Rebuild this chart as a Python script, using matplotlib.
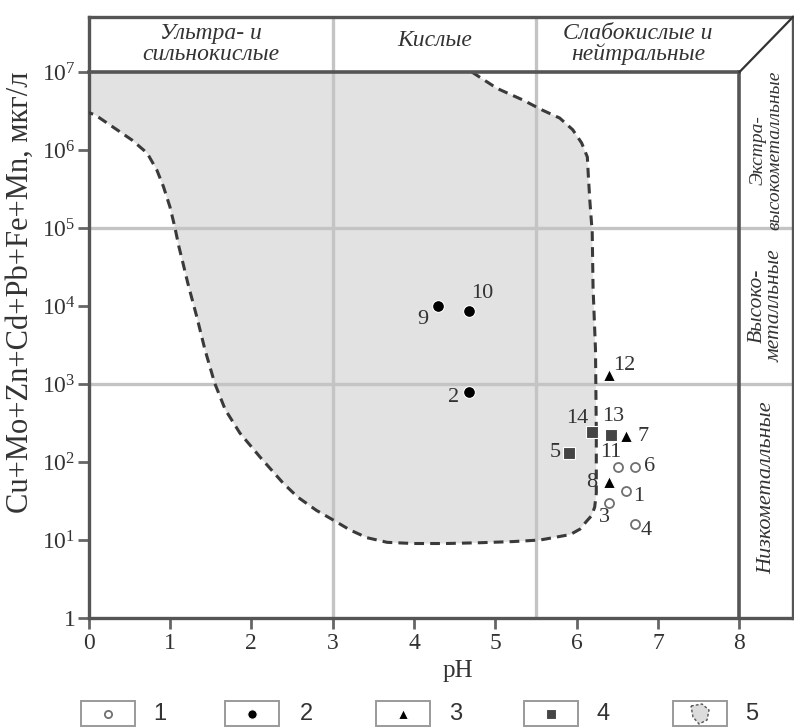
import matplotlib
matplotlib.use('Agg')
import matplotlib.pyplot as plt
from matplotlib.patches import Rectangle, Polygon
import numpy as np

plt.rcParams['font.family'] = ['Liberation Serif', 'DejaVu Serif']
plt.rcParams['mathtext.fontset'] = 'custom'
plt.rcParams['mathtext.rm'] = 'Liberation Serif'
plt.rcParams['mathtext.it'] = 'Liberation Serif:italic'

# ---------------- data ----------------
sample_ids = ['1', '2', '3', '4', '5', '6', '7', '8', '9', '10', '11', '12', '13', '14']
sample_ph = [6.61, 4.67, 6.40, 6.72, 5.90, 6.72, 6.61, 6.40, 4.30, 4.67, 6.51, 6.40, 6.42, 6.19]
sample_metals = [43, 790, 30, 16, 131, 87, 215, 55, 10000, 8700, 87, 1300, 223, 240]
sample_group = [1, 2, 1, 1, 4, 1, 3, 3, 2, 2, 1, 3, 4, 4]

# boundary of the field of natural waters (legend item 5): pH and log10(metals)
field_ph = [4.71, 5.02, 5.34, 5.58, 5.79, 5.95, 6.06, 6.13, 6.14, 6.16, 6.19, 6.20, 6.23,
            6.24, 6.24, 6.22, 6.18, 6.12, 6.04, 5.92, 5.71, 5.55, 5.22, 4.81, 4.40, 3.99,
            3.67, 3.42, 3.21, 3.00, 2.80, 2.57, 2.39, 2.11, 1.86, 1.68, 1.55, 1.43, 1.33,
            1.22, 1.16, 1.11, 1.06, 1.00, 0.92, 0.84, 0.72, 0.53, 0.32, 0.08, 0.00]
field_log_metals = [7.00, 6.79, 6.64, 6.51, 6.41, 6.26, 6.09, 5.91, 5.71, 5.36, 4.94, 4.24, 3.44,
                    2.40, 1.60, 1.42, 1.31, 1.24, 1.14, 1.07, 1.03, 1.00, 0.98, 0.965, 0.955, 0.955,
                    0.97, 1.03, 1.13, 1.26, 1.38, 1.55, 1.73, 2.06, 2.37, 2.67, 3.01, 3.44, 3.86,
                    4.29, 4.55, 4.76, 5.01, 5.27, 5.53, 5.74, 5.96, 6.13, 6.28, 6.45, 6.48]

ph_ticks = [0, 1, 2, 3, 4, 5, 6, 7, 8]
metal_ticks = [1, 1e1, 1e2, 1e3, 1e4, 1e5, 1e6, 1e7]
metal_tick_labels = ['1'] + [r'$\mathregular{10^{%d}}$' % k for k in range(1, 8)]

acidity_classes = ['Ультра- и\nсильнокислые', 'Кислые', 'Слабокислые и\nнейтральные']
acidity_bounds = [0, 3, 5.5, 8]
metal_classes = ['Экстра-\nвысокометалльные', 'Высоко-\nметалльные', 'Низкометалльные']
metal_bounds = [1e7, 1e5, 1e3, 1]
legend_labels = ['1', '2', '3', '4', '5']

# ---------------- styles ----------------
group_style = {
    1: dict(marker='o', ms=6.5, mfc='white', mec='#707070', mew=1.3),
    2: dict(marker='o', ms=8.5, mfc='black', mec='white', mew=0.8),
    3: dict(marker='^', ms=8.5, mfc='black', mec='white', mew=0.8),
    4: dict(marker='s', ms=8.5, mfc='#454545', mec='white', mew=0.8),
}
# label offsets in pixels (dx, dy, ha)
label_offsets = {
    '1': (7, -6, 'left'), '2': (-9, -6, 'right'), '3': (1, -15, 'right'),
    '4': (5, -6, 'left'), '5': (-8, 0, 'right'), '6': (9, 0, 'left'),
    '7': (11, 0, 'left'), '8': (-12, 0, 'right'), '9': (-10, -14, 'right'),
    '10': (3, 17, 'left'), '11': (-7, 14, 'center'), '12': (4, 10, 'left'),
    '13': (2, 18, 'center'), '14': (-4, 14, 'right'),
}
side_text_log_y = [6.0, 4.0, 1.67]
side_text_size = [14, 15.5, 16]
frame_col = '#555555'
grid_col = '#c4c4c4'
field_col = '#e2e2e2'
text_col = '#333333'

W, H = 794, 727
fig = plt.figure(figsize=(W / 100, H / 100), dpi=100)
ax_left, ax_right, ax_top, ax_bottom = 88.6, 793, 17, 618
ax = fig.add_axes([ax_left / W, 1 - ax_bottom / H, (ax_right - ax_left) / W, (ax_bottom - ax_top) / H])
ax.set_yscale('log')
x_hi = 8 + (ax_right - 739.5) / 81.36
y_hi = 10 ** ((ax_bottom - ax_top) / 78.0)
ax.set_xlim(0, x_hi)
ax.set_ylim(1, y_hi)

# shaded field
field_y = [10 ** v for v in field_log_metals]
poly_x = [0] + field_ph
poly_y = [metal_bounds[0]] + field_y
ax.add_patch(Polygon(list(zip(poly_x, poly_y)), closed=True, facecolor=field_col,
                     edgecolor='none', zorder=1))
ax.plot(field_ph, field_y, color='#3a3a3a', lw=2.2, ls=(0, (3.2, 2.0)), zorder=3,
        solid_joinstyle='round')

# grid lines (class boundaries)
for xb in acidity_bounds[1:3]:
    ax.axvline(xb, color=grid_col, lw=2.4, zorder=2)
for yb in metal_bounds[1:3]:
    ax.axhline(yb, color=grid_col, lw=2.4, zorder=2)

# thick frame lines
ax.plot([0, acidity_bounds[-1]], [metal_bounds[0]] * 2, color=frame_col, lw=2.6, zorder=4, clip_on=False)
ax.plot([acidity_bounds[-1]] * 2, [1, metal_bounds[0]], color=frame_col, lw=2.6, zorder=4, clip_on=False)
ax.plot([acidity_bounds[-1], x_hi], [metal_bounds[0], y_hi], color='#333333', lw=1.6, zorder=4, clip_on=False)

for s in ax.spines.values():
    s.set_color(frame_col)
    s.set_linewidth(2.4)

# header / side labels
head_y = [10 ** 7.36, 10 ** 7.41, 10 ** 7.36]
for i, lab in enumerate(acidity_classes):
    xc = (acidity_bounds[i] + acidity_bounds[i + 1]) / 2
    ax.text(xc, head_y[i], lab, ha='center', va='center', fontsize=17, style='italic',
            color=text_col, linespacing=1.0)
side_x = (8 + x_hi) / 2
for i, lab in enumerate(metal_classes):
    ax.text(side_x, 10 ** side_text_log_y[i], lab, ha='center', va='center', rotation=90,
            fontsize=side_text_size[i], style='italic', color=text_col, linespacing=0.95)

# samples
for gid, st in group_style.items():
    xs = [p for p, g in zip(sample_ph, sample_group) if g == gid]
    ys = [m for m, g in zip(sample_metals, sample_group) if g == gid]
    ax.plot(xs, ys, ls='none', zorder=6, **st)
for sid, p, m in zip(sample_ids, sample_ph, sample_metals):
    dx, dy, ha = label_offsets[sid]
    ax.annotate(sid, (p, m), xytext=(dx * 0.72, dy * 0.72), textcoords='offset points',
                ha=ha, va='center', fontsize=16, color=text_col, zorder=7)

# ticks
ax.set_xticks(ph_ticks)
ax.set_xticklabels([str(t) for t in ph_ticks])
ax.set_yticks(metal_ticks)
ax.set_yticklabels(metal_tick_labels)
ax.yaxis.set_minor_locator(matplotlib.ticker.NullLocator())
ax.tick_params(axis='both', direction='out', length=8, width=2, color='#666666',
               labelsize=17, labelcolor=text_col, pad=1.5)
ax.tick_params(axis='x', pad=3)

fig.text(458 / W, 1 - 671 / H, 'pH', ha='center', va='center', fontsize=18, color=text_col)
fig.text(20 / W, 1 - 292 / H, 'Cu+Mo+Zn+Cd+Pb+Fe+Mn, мкг/л', ha='center', va='center',
         rotation=90, fontsize=22, color=text_col)

# legend strip
lax = fig.add_axes([0, 0, 1, 40 / H])
lax.set_xlim(0, W)
lax.set_ylim(0, 40)
lax.axis('off')
box_left = [81, 225, 376, 524, 673]
box_w = 54
label_x = [160, 306, 456, 603, 752]
for i, lab in enumerate(legend_labels):
    lax.add_patch(Rectangle((box_left[i], 1), box_w, 25, facecolor='white', edgecolor='#9a9a9a', lw=1.4))
    cx = box_left[i] + box_w / 2
    if i < 4:
        st = dict(group_style[i + 1])
        st['ms'] = st['ms'] * 0.8
        lax.plot([cx], [13], ls='none', **st)
    else:
        blob = np.array([[-9, 8], [2, 10], [9, 4], [7, -6], [-1, -10], [-7, -3]]) + [cx, 13]
        lax.add_patch(Polygon(blob, closed=True, facecolor='#dcdcdc', edgecolor='#555555',
                              lw=1.0, ls=(0, (2, 1.5))))
    lax.text(label_x[i], 13, lab, ha='center', va='center', fontsize=17,
             family=['Liberation Sans', 'DejaVu Sans'], color=text_col)

fig.savefig('out.png', dpi=100)
